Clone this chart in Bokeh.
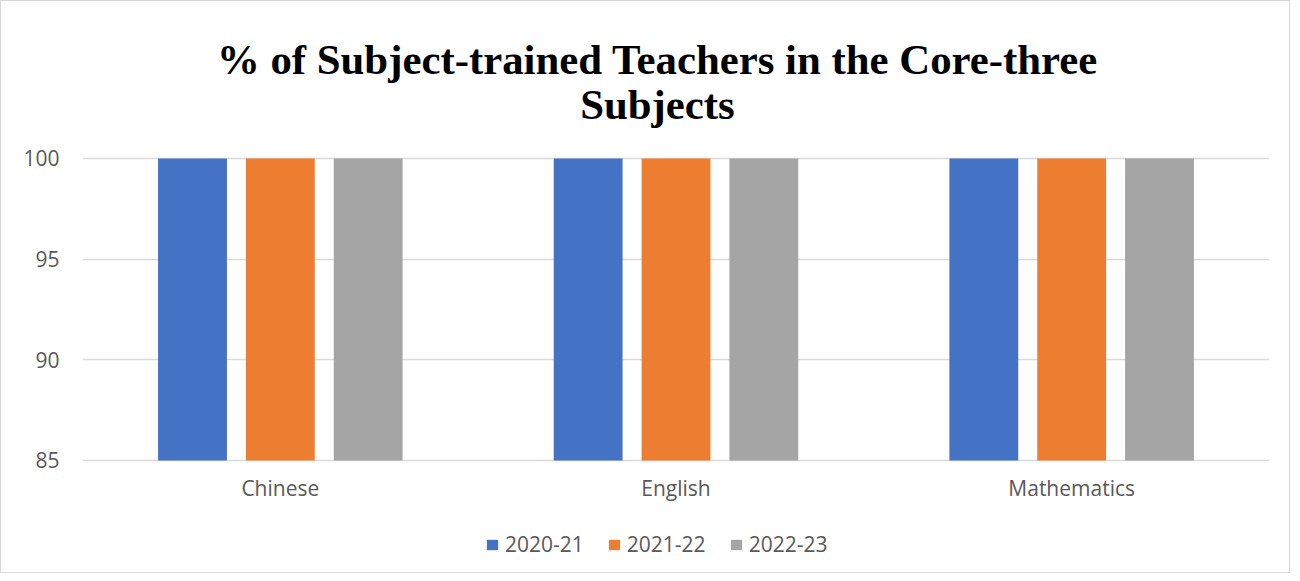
from bokeh.plotting import figure
from bokeh.models import ColumnDataSource, Legend, LegendItem, Label, Range1d
from bokeh.transform import dodge
from bokeh.embed import file_html
from bokeh.resources import INLINE

categories = ["Chinese", "English", "Mathematics"]
years = ["2020-21", "2021-22", "2022-23"]
values_2020_21 = [100, 100, 100]
values_2021_22 = [100, 100, 100]
values_2022_23 = [100, 100, 100]
y_ticks = [85, 90, 95, 100]
colors = ["#4472C4", "#ED7D31", "#A5A5A5"]
title_lines = ["% of Subject-trained Teachers in the Core-three", "Subjects"]

source = ColumnDataSource(dict(cat=categories, v0=values_2020_21, v1=values_2021_22, v2=values_2022_23))

# frame spans the whole height; the value axis 85..100 sits in the middle of it
p = figure(x_range=categories, y_range=Range1d(79.437, 107.798), width=1290, height=573,
           output_backend="svg", toolbar_location=None,
           min_border_left=81, min_border_right=22, min_border_top=0, min_border_bottom=2)

renderers = []
for i, (col, c) in enumerate(zip(["v0", "v1", "v2"], colors)):
    r = p.vbar(x=dodge("cat", (i - 1) * 0.222, range=p.x_range), top=col, bottom=y_ticks[0],
               width=0.174, source=source, fill_color=c, line_color=None)
    renderers.append(r)

p.yaxis.ticker = y_ticks
p.ygrid.ticker = y_ticks
p.ygrid.grid_line_color = "#d9d9d9"
p.ygrid.grid_line_width = 1.5
p.xgrid.grid_line_color = None
for ax in (p.xaxis, p.yaxis):
    ax.axis_line_color = None
    ax.major_tick_line_color = None
    ax.minor_tick_line_color = None
    ax.major_tick_out = 0
    ax.major_tick_in = 0
    ax.major_label_text_color = "#595959"
    ax.major_label_text_font = "Open Sans"
    ax.major_label_text_font_size = "21px"
p.xaxis.fixed_location = y_ticks[0]
p.xaxis.major_label_standoff = 14
p.yaxis.major_label_standoff = 23
p.outline_line_color = None

for text, ty in zip(title_lines, [104.93, 102.69]):
    p.add_layout(Label(x=1.4532, y=ty, text=text, text_align="center", text_baseline="alphabetic",
                       text_font="Liberation Serif", text_font_size="42.8px",
                       text_font_style="bold", text_color="#000000"))

legend = Legend(items=[LegendItem(label=y, renderers=[r]) for y, r in zip(years, renderers)],
                orientation="horizontal", location=(403, 14),
                glyph_width=14, glyph_height=13, label_standoff=6, spacing=23,
                label_text_font="Open Sans", label_text_font_size="21px",
                label_text_color="#595959", padding=0, margin=0,
                border_line_color=None, background_fill_alpha=0)
p.add_layout(legend, "center")
p.styles = {"border": "1px solid #d9d9d9"}

open("out.html", "w").write(file_html(p, INLINE))
